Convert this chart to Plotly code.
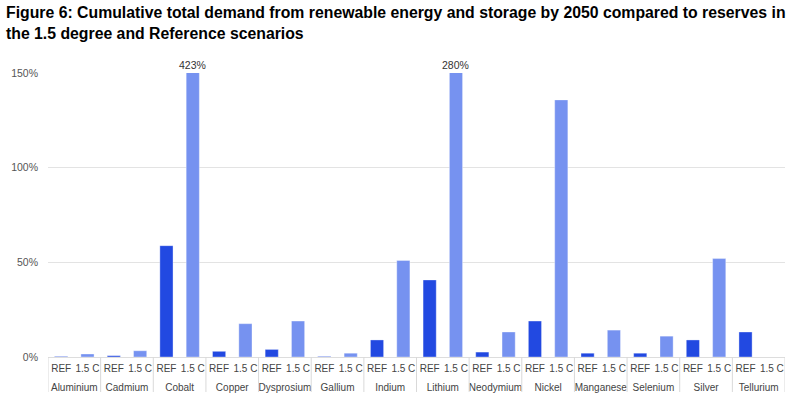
import plotly.graph_objects as go

minerals = ["Aluminium", "Cadmium", "Cobalt", "Copper", "Dysprosium", "Gallium", "Indium",
            "Lithium", "Neodymium", "Nickel", "Manganese", "Selenium", "Silver", "Tellurium"]
scenarios = ["REF", "1.5 C"]
ref_values = [0.3, 0.7, 58.8, 3.0, 4.0, 0.3, 9.0, 40.7, 2.6, 19.0, 2.0, 2.0, 9.0, 13.2]
c15_values = [1.6, 3.3, 423.0, 17.6, 19.0, 2.0, 51.0, 280.0, 13.2, 135.8, 14.2, 11.0, 52.0, 0.0]
y_max = 150
y_ticks = [0, 50, 100, 150]

W, H = 800, 398
L, R, T, B = 48, 15, 73, 41
plot_w = W - L - R
plot_h = H - T - B
FONT = "Liberation Sans, Arial"

n = len(minerals)
ns = len(scenarios)
ref_x = [ns * i for i in range(n)]
c15_x = [ns * i + 1 for i in range(n)]

fig = go.Figure()
fig.add_trace(go.Bar(
    x=ref_x, y=ref_values, name=scenarios[0],
    marker=dict(color="#2249E1", line=dict(color="rgba(255,255,255,0.35)", width=1)),
    width=0.5, showlegend=False))
fig.add_trace(go.Bar(
    x=c15_x, y=c15_values, name=scenarios[1],
    marker=dict(color="#7692F0", line=dict(color="rgba(255,255,255,0.35)", width=1)),
    width=0.5, showlegend=False))
# carrier for the group-label axis
fig.add_trace(go.Scatter(
    x=[ns * i + (ns - 1) / 2 for i in range(n)], y=[0] * n, xaxis="x2",
    mode="markers", marker=dict(opacity=0), hoverinfo="skip", showlegend=False))

# labels above clipped bars
for xi, v in zip(c15_x, c15_values):
    if v > y_max:
        fig.add_annotation(x=xi, y=y_max, text=f"{v:.0f}%", showarrow=False,
                           yanchor="bottom", yshift=0,
                           font=dict(family=FONT, size=10.5, color="#333"))

# group dividers
for i in range(n + 1):
    fig.add_shape(type="line", xref="x", yref="paper",
                  x0=ns * i - 0.5, x1=ns * i - 0.5, y0=0, y1=-35 / plot_h,
                  line=dict(color="#D9D9D9", width=1))

fig.add_annotation(
    text="<b>Figure 6: Cumulative total demand from renewable energy and storage by 2050 compared to reserves in<br>the 1.5 degree and Reference scenarios</b>",
    xref="paper", yref="paper", x=(4 - L) / plot_w, y=1 + (T - 2) / plot_h,
    xanchor="left", yanchor="top", align="left", showarrow=False,
    font=dict(family=FONT, size=15.8, color="#000"))

x_range = [-0.5, ns * n - 0.5]
fig.update_layout(
    barmode="overlay",
    width=W, height=H,
    margin=dict(l=L, r=R, t=T, b=B),
    plot_bgcolor="white", paper_bgcolor="white",
    font=dict(family=FONT, size=10, color="#444"),
    xaxis=dict(range=x_range, tickmode="array", tickvals=list(range(ns * n)),
               ticktext=scenarios * n, showgrid=False, zeroline=False, showline=False,
               tickangle=0, automargin=False, ticklabelstandoff=4, fixedrange=True,
               tickfont=dict(family=FONT, size=10, color="#444")),
    xaxis2=dict(range=x_range, overlaying="x", side="bottom", anchor="y",
                tickmode="array", tickvals=[ns * i + (ns - 1) / 2 for i in range(n)],
                ticktext=minerals, showgrid=False, zeroline=False, showline=False,
                tickangle=0, automargin=False, ticklabelstandoff=23, fixedrange=True,
                tickfont=dict(family=FONT, size=10, color="#444")),
    yaxis=dict(range=[0, y_max], tickvals=y_ticks, ticktext=[f"{t}%" for t in y_ticks],
               showgrid=True, gridcolor="#E3E3E3", gridwidth=1, zeroline=True,
               zerolinecolor="#DDDDDD", zerolinewidth=1, ticklabelstandoff=9,
               automargin=False, fixedrange=True,
               tickfont=dict(family=FONT, size=10.5, color="#555")),
)

fig.write_html("out.html", config={"displayModeBar": False},
               post_script="document.body.style.margin='0';")
